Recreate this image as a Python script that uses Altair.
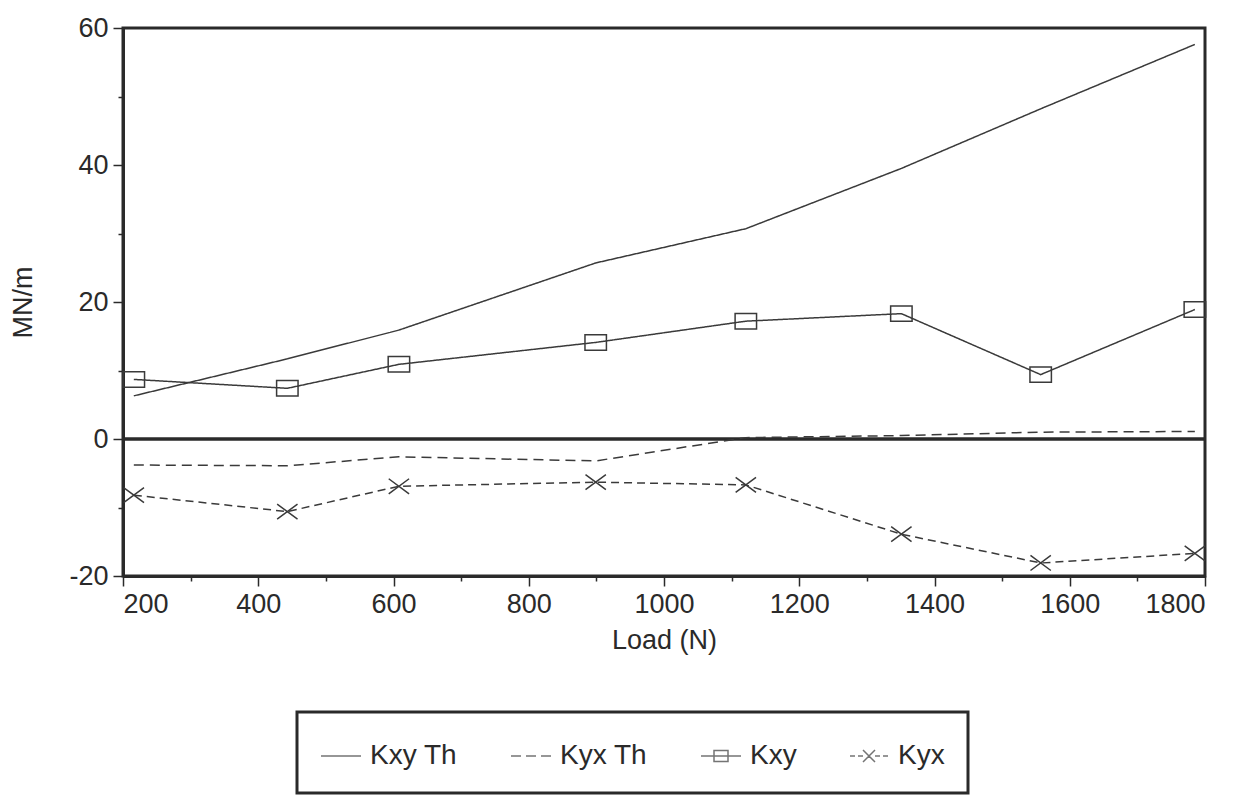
import altair as alt
import pandas as pd

# Load points (N) shared by all four series
loads = [216, 443, 608, 899, 1121, 1351, 1557, 1785]

# Stiffness coefficients (MN/m)
kxy_th = [6.3, 11.7, 15.9, 25.7, 30.7, 39.5, 48.2, 57.6]
kyx_th = [-3.8, -3.9, -2.6, -3.2, 0.2, 0.5, 1.0, 1.1]
kxy = [8.7, 7.4, 10.9, 14.1, 17.2, 18.3, 9.4, 18.9]
kyx = [-8.2, -10.6, -6.9, -6.3, -6.7, -13.9, -18.1, -16.7]

series_names = ["Kxy Th", "Kyx Th", "Kxy", "Kyx"]
series_values = [kxy_th, kyx_th, kxy, kyx]

rows = []
for name, vals in zip(series_names, series_values):
    for load, v in zip(loads, vals):
        rows.append({"load": load, "value": v, "series": name})
df = pd.DataFrame(rows)

FONT = "Liberation Sans, Arial, sans-serif"
INK = "#2a2a2a"
LINE = "#3a3a3a"

x_enc = alt.X(
    "load:Q",
    scale=alt.Scale(domain=[200, 1800], nice=False, zero=False),
    axis=alt.Axis(
        values=list(range(200, 1801, 100)),
        labelExpr="datum.value % 200 == 0 ? '' + datum.value : ''",
        tickSize={"condition": {"test": "datum.value % 200 == 0", "value": 10}, "value": 5},
        title="Load (N)",
        titlePadding=10,
        labelPadding=5,
    ),
)
y_enc = alt.Y(
    "value:Q",
    scale=alt.Scale(domain=[-20, 60], nice=False, zero=False),
    axis=alt.Axis(
        values=list(range(-20, 61, 10)),
        labelExpr="datum.value % 20 == 0 ? '' + datum.value : ''",
        tickSize={"condition": {"test": "datum.value % 20 == 0", "value": 10}, "value": 5},
        title="MN/m",
        titlePadding=31,
        labelPadding=5,
    ),
)

lines = alt.Chart(df).mark_line(strokeWidth=1.5, color=LINE).encode(
    x=x_enc,
    y=y_enc,
    detail="series:N",
    strokeDash=alt.StrokeDash(
        "series:N",
        scale=alt.Scale(domain=series_names, range=[[1, 0], [10, 6], [1, 0], [8, 5]]),
        legend=None,
    ),
)

# Open square and x-cross markers on the measured series
square_path = "M-1,-0.72H1V0.72H-1Z"
cross_path = "M-0.95,-0.7L0.95,0.7M-0.95,0.7L0.95,-0.7"
markers = (
    alt.Chart(df)
    .transform_filter(alt.FieldOneOfPredicate(field="series", oneOf=["Kxy", "Kyx"]))
    .mark_point(filled=False, color=LINE, strokeWidth=1.5, size=460, opacity=1)
    .encode(
        x="load:Q",
        y="value:Q",
        shape=alt.Shape(
            "series:N",
            scale=alt.Scale(domain=["Kxy", "Kyx"], range=[square_path, cross_path]),
            legend=None,
        ),
    )
)

zero_line = alt.Chart(pd.DataFrame({"value": [0]})).mark_rule(
    color=INK, strokeWidth=3.5
).encode(y="value:Q")

# Legend glyphs: line sample, dashed sample, line with square, dashed with cross
legend_paths = [
    "M-1,0H1",
    "M-1,0H-0.5M-0.25,0H0.25M0.5,0H1",
    "M-1,0H1M-0.35,-0.28H0.35V0.28H-0.35Z",
    "M-0.95,0H-0.7M-0.55,0H-0.3M-0.3,-0.3L0.3,0.3M-0.3,0.3L0.3,-0.3M0.3,0H0.55M0.7,0H0.95",
]
legend_layer = (
    alt.Chart(df)
    .transform_filter("false")
    .mark_point(filled=False, color=LINE, strokeWidth=1.5)
    .encode(
        x="load:Q",
        y="value:Q",
        shape=alt.Shape(
            "series:N",
            scale=alt.Scale(domain=series_names, range=legend_paths),
            legend=alt.Legend(
                title=None,
                orient="none",
                legendX=174,
                legendY=684,
                direction="horizontal",
                symbolSize=1600,
                symbolStrokeWidth=1.5,
                symbolStrokeColor=LINE,
                labelFontSize=28,
                labelFont=FONT,
                labelColor=INK,
                labelOffset=8,
                columnPadding=50,
                padding=23,
                strokeColor=INK,
                fillColor="white",
            ),
        ),
    )
)

chart = (
    alt.layer(zero_line, lines, markers, legend_layer)
    .resolve_scale(shape="independent")
    .properties(
        width=1082,
        height=548,
        autosize="none",
        padding={"left": 123, "top": 28, "right": 45, "bottom": 232},
        background="white",
    )
    .configure_view(stroke=INK, strokeWidth=3)
    .configure_axis(
        grid=False,
        domainColor=INK,
        domainWidth=3,
        tickColor=INK,
        tickWidth=1.5,
        labelFont=FONT,
        labelFontSize=27,
        labelColor=INK,
        titleFont=FONT,
        titleFontSize=27,
        titleFontWeight="normal",
        titleColor=INK,
    )
    .configure_legend(strokeWidth=3)
)

chart.save("out.html", embed_options={"renderer": "svg", "actions": False})
